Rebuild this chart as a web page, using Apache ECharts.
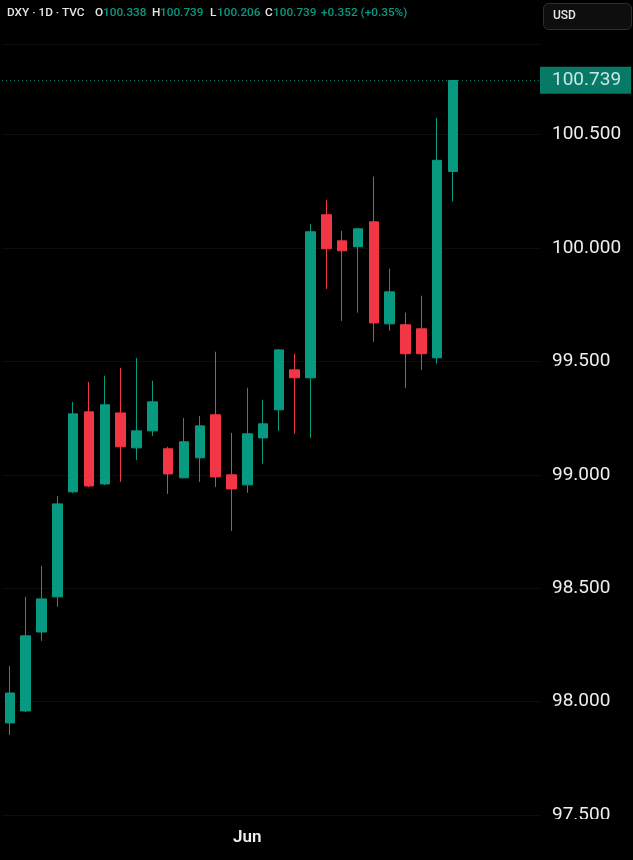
<!DOCTYPE html>
<html>
<head>
<meta charset="utf-8">
<script src="https://cdn.jsdelivr.net/npm/echarts@6/dist/echarts.min.js"></script>
<style>
    html, body { margin: 0; padding: 0; background: #000; }
    #chart { width: 633px; height: 860px; }
</style>
</head>
<body>
<div id="chart"></div>
<script>
    // daily candles, DXY
    var dates = ['2026-05-11', '2026-05-12', '2026-05-13', '2026-05-14', '2026-05-15',
        '2026-05-18', '2026-05-19', '2026-05-20', '2026-05-21', '2026-05-22',
        '2026-05-25', '2026-05-26', '2026-05-27', '2026-05-28', '2026-05-29',
        '2026-06-01', '2026-06-02', '2026-06-03', '2026-06-04', '2026-06-05',
        '2026-06-08', '2026-06-09', '2026-06-10', '2026-06-11', '2026-06-12',
        '2026-06-15', '2026-06-16', '2026-06-17', '2026-06-18',
        // empty space on the right
        '2026-06-19', '2026-06-22', '2026-06-23', '2026-06-24', '2026-06-25']
    var opens = [97.906, 97.959, 98.307, 98.462, 98.925, 99.278, 98.960, 99.273, 99.119, 99.194,
        99.115, 98.987, 99.075, 99.265, 99.000, 98.956, 99.163, 99.287, 99.463, 99.428,
        100.147, 100.032, 100.006, 100.116, 99.666, 99.662, 99.644, 99.516, 100.338]
    var closes = [98.038, 98.290, 98.453, 98.872, 99.269, 98.951, 99.309, 99.124, 99.194, 99.322,
        99.004, 99.146, 99.216, 98.991, 98.938, 99.181, 99.225, 99.551, 99.428, 100.072,
        99.997, 99.988, 100.085, 99.670, 99.807, 99.534, 99.534, 100.387, 100.739]
    var lows = [97.853, 97.954, 98.268, 98.418, 98.920, 98.946, 98.955, 98.969, 99.066, 99.172,
        98.916, 98.985, 98.969, 98.947, 98.753, 98.921, 99.049, 99.194, 99.181, 99.163,
        99.820, 99.679, 99.715, 99.587, 99.635, 99.384, 99.463, 99.490, 100.206]
    var highs = [98.158, 98.462, 98.599, 98.907, 99.322, 99.410, 99.437, 99.472, 99.516, 99.415,
        99.124, 99.251, 99.260, 99.543, 99.185, 99.384, 99.331, 99.555, 99.534, 100.107,
        100.213, 100.076, 100.088, 100.315, 99.909, 99.715, 99.790, 100.575, 100.739]

    var upColor = '#089981'
    var downColor = '#F23645'
    var font = 'Roboto, "Liberation Sans", sans-serif'

    var candles = []
    for (var i = 0; i < opens.length; i++) {
        candles.push([opens[i], closes[i], lows[i], highs[i]])
    }

    var n = opens.length - 1
    var lastClose = closes[n]
    var change = closes[n] - closes[n - 1]
    var pct = change / closes[n - 1] * 100
    var sign = change >= 0 ? '+' : '-'

    // legend line on top
    var header = [
        {x: 7, text: 'DXY · 1D · TVC', fill: '#e6e6e6'},
        {x: 95, text: 'O', fill: '#e6e6e6'},
        {x: 103, text: opens[n].toFixed(3), fill: upColor},
        {x: 152, text: 'H', fill: '#e6e6e6'},
        {x: 160, text: highs[n].toFixed(3), fill: upColor},
        {x: 210, text: 'L', fill: '#e6e6e6'},
        {x: 217, text: lows[n].toFixed(3), fill: upColor},
        {x: 265, text: 'C', fill: '#e6e6e6'},
        {x: 273, text: closes[n].toFixed(3), fill: upColor},
        {x: 321, text: sign + Math.abs(change).toFixed(3) + ' (' + sign + Math.abs(pct).toFixed(2) + '%)', fill: upColor}
    ]
    var graphics = header.map(function (h) {
        return {
            type: 'text', left: h.x, top: 7, z: 30,
            style: {text: h.text, fill: h.fill, font: '500 11.8px ' + font}
        }
    })
    graphics.push({
        type: 'rect', left: 543, top: 3, z: 30,
        shape: {width: 88, height: 26, r: 5},
        style: {fill: '#0e0e0e', stroke: '#2e2e2e', lineWidth: 1}
    })
    graphics.push({
        type: 'text', left: 553, top: 10, z: 31,
        style: {text: 'USD', fill: '#e6e6e6', font: '500 12px ' + font}
    })
    // time scale pane covers the bottom of the price scale
    graphics.push({
        type: 'rect', left: 0, top: 819, z: 10,
        shape: {width: 633, height: 41},
        style: {fill: '#000'}
    })

    var chart = echarts.init(document.getElementById('chart'))
    chart.setOption({
        backgroundColor: '#000',
        animation: false,
        graphic: graphics,
        grid: {
            left: 2,
            right: 93,
            top: 44,
            bottom: 45
        },
        xAxis: {
            type: 'category',
            data: dates,
            z: 20,
            axisLine: {show: false},
            axisTick: {show: false},
            splitLine: {show: false},
            axisLabel: {
                interval: 0,
                margin: 14,
                color: '#f0f0f0',
                fontSize: 17,
                fontWeight: 600,
                fontFamily: font,
                formatter: function (v) {
                    return v === '2026-06-01' ? 'Jun' : ''
                }
            }
        },
        yAxis: {
            type: 'value',
            position: 'right',
            min: 97.5,
            max: 100.9,
            interval: 0.5,
            z: 0,
            axisLine: {show: false},
            axisTick: {show: false},
            splitLine: {lineStyle: {color: '#0d0d0d', width: 1}},
            axisLabel: {
                margin: 12,
                color: '#eeeeee',
                fontSize: 19,
                fontFamily: font,
                showMaxLabel: false,
                formatter: function (v) {
                    return v.toFixed(3)
                }
            }
        },
        series: [
            {
                name: 'DXY',
                type: 'candlestick',
                data: candles,
                barWidth: 10,
                itemStyle: {
                    color: upColor,
                    color0: downColor,
                    borderColor: upColor,
                    borderColor0: downColor,
                    borderWidth: 1
                },
                markLine: {
                    silent: true,
                    symbol: 'none',
                    lineStyle: {color: upColor, type: [1, 3], width: 1, opacity: 0.8},
                    label: {
                        position: 'end',
                        distance: 0,
                        formatter: lastClose.toFixed(3),
                        backgroundColor: upColor,
                        color: '#ffffff',
                        fontSize: 19,
                        fontFamily: font,
                        padding: [4, 10, 4, 12]
                    },
                    data: [{yAxis: lastClose}]
                }
            }
        ]
    })
</script>
</body>
</html>
